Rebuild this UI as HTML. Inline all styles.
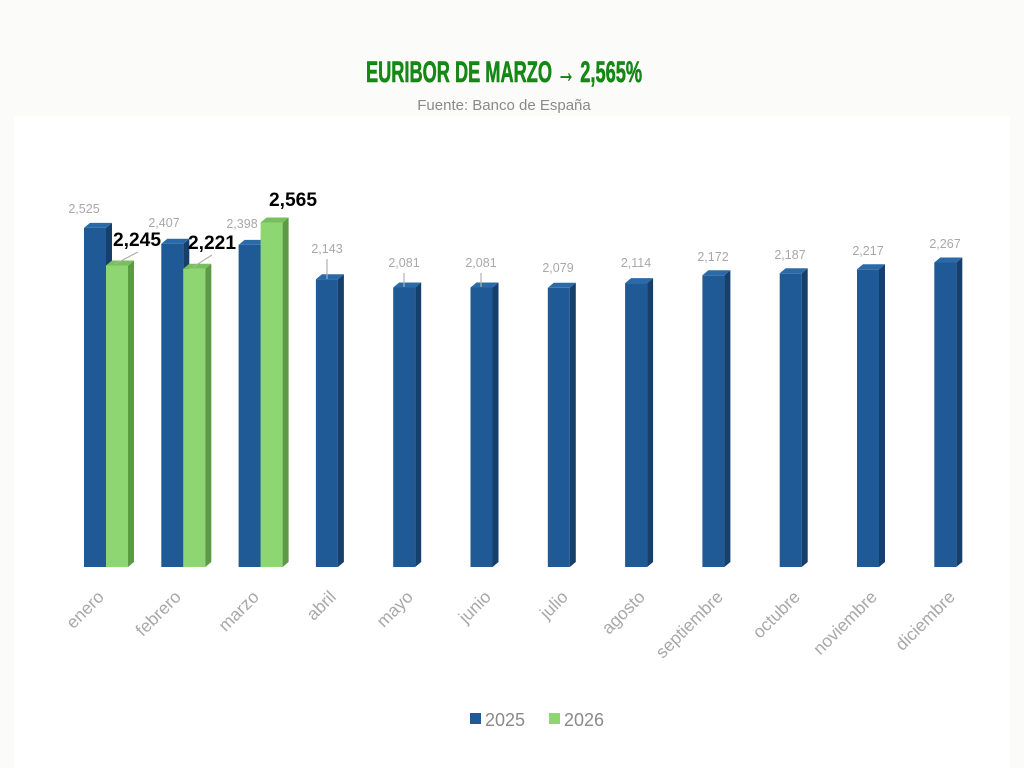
<!DOCTYPE html>
<html><head><meta charset="utf-8"><style>
html,body{margin:0;padding:0;background:#fbfbf9;}
svg{display:block}
</style></head><body>
<svg width="1024" height="768" xmlns="http://www.w3.org/2000/svg" font-family="Liberation Sans, sans-serif">
<rect x="0" y="0" width="1024" height="768" fill="#fbfbf9"/>
<rect x="14" y="116" width="996" height="652" fill="#ffffff"/>
<text x="366" y="82" font-weight="bold" font-size="30" fill="#138a13" stroke="#0f7a0f" stroke-width="0.6" textLength="276" lengthAdjust="spacingAndGlyphs">EURIBOR DE MARZO → 2,565%</text>
<text x="504" y="110" text-anchor="middle" font-size="15" fill="#8a8a8a">Fuente: Banco de España</text>
<g id="bars">
<g transform="translate(84,227.9)"><rect width="22" height="339.1" fill="#1f5a96"/><polygon points="22,0 28,-5 28,334.1 22,339.1" fill="#163f6b"/><polygon points="0,0 6,-5 28,-5 22,0" fill="#2b6aa8"/></g>
<g transform="translate(161.3,243.7)"><rect width="22" height="323.3" fill="#1f5a96"/><polygon points="22,0 28,-5 28,318.3 22,323.3" fill="#163f6b"/><polygon points="0,0 6,-5 28,-5 22,0" fill="#2b6aa8"/></g>
<g transform="translate(238.6,244.9)"><rect width="22" height="322.1" fill="#1f5a96"/><polygon points="22,0 28,-5 28,317.1 22,322.1" fill="#163f6b"/><polygon points="0,0 6,-5 28,-5 22,0" fill="#2b6aa8"/></g>
<g transform="translate(315.9,279.2)"><rect width="22" height="287.8" fill="#1f5a96"/><polygon points="22,0 28,-5 28,282.8 22,287.8" fill="#163f6b"/><polygon points="0,0 6,-5 28,-5 22,0" fill="#2b6aa8"/></g>
<g transform="translate(393.2,287.5)"><rect width="22" height="279.5" fill="#1f5a96"/><polygon points="22,0 28,-5 28,274.5 22,279.5" fill="#163f6b"/><polygon points="0,0 6,-5 28,-5 22,0" fill="#2b6aa8"/></g>
<g transform="translate(470.5,287.5)"><rect width="22" height="279.5" fill="#1f5a96"/><polygon points="22,0 28,-5 28,274.5 22,279.5" fill="#163f6b"/><polygon points="0,0 6,-5 28,-5 22,0" fill="#2b6aa8"/></g>
<g transform="translate(547.8,287.8)"><rect width="22" height="279.2" fill="#1f5a96"/><polygon points="22,0 28,-5 28,274.2 22,279.2" fill="#163f6b"/><polygon points="0,0 6,-5 28,-5 22,0" fill="#2b6aa8"/></g>
<g transform="translate(625.1,283.1)"><rect width="22" height="283.9" fill="#1f5a96"/><polygon points="22,0 28,-5 28,278.9 22,283.9" fill="#163f6b"/><polygon points="0,0 6,-5 28,-5 22,0" fill="#2b6aa8"/></g>
<g transform="translate(702.4,275.3)"><rect width="22" height="291.7" fill="#1f5a96"/><polygon points="22,0 28,-5 28,286.7 22,291.7" fill="#163f6b"/><polygon points="0,0 6,-5 28,-5 22,0" fill="#2b6aa8"/></g>
<g transform="translate(779.7,273.3)"><rect width="22" height="293.7" fill="#1f5a96"/><polygon points="22,0 28,-5 28,288.7 22,293.7" fill="#163f6b"/><polygon points="0,0 6,-5 28,-5 22,0" fill="#2b6aa8"/></g>
<g transform="translate(857,269.3)"><rect width="22" height="297.7" fill="#1f5a96"/><polygon points="22,0 28,-5 28,292.7 22,297.7" fill="#163f6b"/><polygon points="0,0 6,-5 28,-5 22,0" fill="#2b6aa8"/></g>
<g transform="translate(934.3,262.5)"><rect width="22" height="304.5" fill="#1f5a96"/><polygon points="22,0 28,-5 28,299.5 22,304.5" fill="#163f6b"/><polygon points="0,0 6,-5 28,-5 22,0" fill="#2b6aa8"/></g>
<g transform="translate(106,265.5)"><rect width="22" height="301.5" fill="#8dd672"/><polygon points="22,0 28,-5 28,296.5 22,301.5" fill="#5c9a46"/><polygon points="0,0 6,-5 28,-5 22,0" fill="#78bf5e"/></g>
<g transform="translate(183.3,268.7)"><rect width="22" height="298.3" fill="#8dd672"/><polygon points="22,0 28,-5 28,293.3 22,298.3" fill="#5c9a46"/><polygon points="0,0 6,-5 28,-5 22,0" fill="#78bf5e"/></g>
<g transform="translate(260.6,222.5)"><rect width="22" height="344.5" fill="#8dd672"/><polygon points="22,0 28,-5 28,339.5 22,344.5" fill="#5c9a46"/><polygon points="0,0 6,-5 28,-5 22,0" fill="#78bf5e"/></g>
</g>
<g font-size="12.5" fill="#a8a8a8" text-anchor="middle">
<text x="84" y="213">2,525</text>
<text x="164" y="227">2,407</text>
<text x="242" y="228">2,398</text>
<text x="327" y="253">2,143</text>
<text x="404" y="267">2,081</text>
<text x="481" y="267">2,081</text>
<text x="558" y="272">2,079</text>
<text x="636" y="267">2,114</text>
<text x="713" y="261">2,172</text>
<text x="790" y="259">2,187</text>
<text x="868" y="255">2,217</text>
<text x="945" y="248">2,267</text>
</g>
<g stroke="#b0b0b0" stroke-width="1.2">
<line x1="327" y1="259" x2="327" y2="279"/>
<line x1="404" y1="273" x2="404" y2="287"/>
<line x1="481" y1="273" x2="481" y2="287"/>
<line x1="115" y1="264" x2="138" y2="252"/>
<line x1="193" y1="267" x2="212" y2="255"/>
</g>
<g font-size="19" font-weight="bold" fill="#000">
<text x="113" y="246" textLength="48" lengthAdjust="spacingAndGlyphs">2,245</text>
<text x="188" y="249" textLength="48" lengthAdjust="spacingAndGlyphs">2,221</text>
<text x="269" y="206" textLength="48" lengthAdjust="spacingAndGlyphs">2,565</text>
</g>
<g font-size="17.5" fill="#a8a8a8" text-anchor="end">
<text transform="translate(105,598) rotate(-45)">enero</text>
<text transform="translate(182,598) rotate(-45)">febrero</text>
<text transform="translate(260,598) rotate(-45)">marzo</text>
<text transform="translate(337,598) rotate(-45)">abril</text>
<text transform="translate(414,598) rotate(-45)">mayo</text>
<text transform="translate(492,598) rotate(-45)">junio</text>
<text transform="translate(569,598) rotate(-45)">julio</text>
<text transform="translate(646,598) rotate(-45)">agosto</text>
<text transform="translate(724,598) rotate(-45)">septiembre</text>
<text transform="translate(801,598) rotate(-45)">octubre</text>
<text transform="translate(878,598) rotate(-45)">noviembre</text>
<text transform="translate(956,598) rotate(-45)">diciembre</text>
</g>
<rect x="470" y="713" width="11" height="11" fill="#1f5a96"/>
<text x="485" y="726" font-size="18" fill="#8a8a8a">2025</text>
<rect x="549" y="713" width="11" height="11" fill="#8dd672"/>
<text x="564" y="726" font-size="18" fill="#8a8a8a">2026</text>
</svg>
</body></html>
